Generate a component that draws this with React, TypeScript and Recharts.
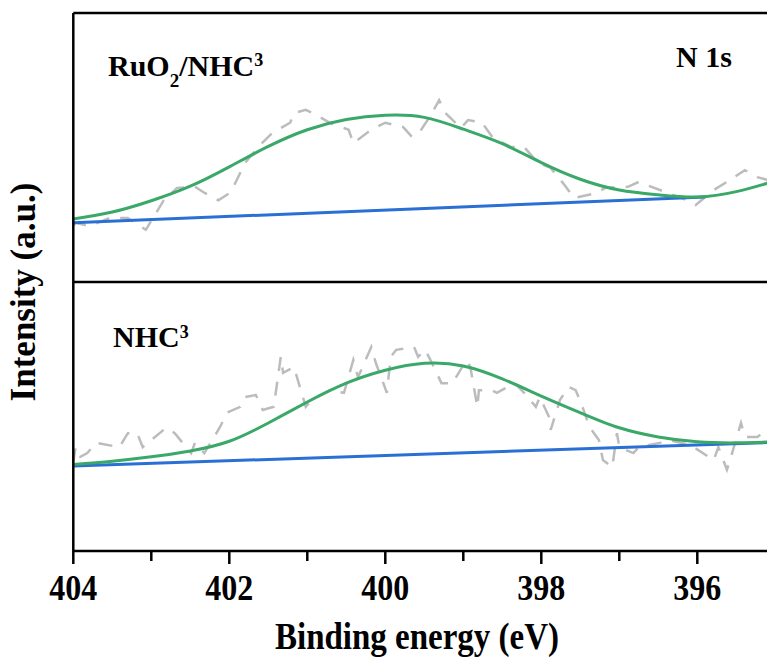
import { LineChart, Line, XAxis, YAxis, ReferenceLine, Customized } from 'recharts';

// N 1s fits, sampled every 0.5 eV from 404 down to 395
const fitEnergy = [404, 403.5, 403, 402.5, 402, 401.5, 401, 400.5, 400, 399.5, 399, 398.5, 398, 397.5, 397, 396.5, 396, 395.5, 395];
const ruo2Fit = [61.7, 63.0, 65.1, 67.8, 71.4, 75.2, 78.3, 80.2, 81.0, 80.6, 78.4, 75.7, 72.2, 69.1, 67.1, 66.2, 65.8, 66.8, 68.8];
const nhcFit = [16.1, 16.7, 17.5, 18.6, 20.4, 23.8, 27.7, 31.2, 33.6, 34.9, 34.4, 32.0, 28.8, 25.7, 22.9, 21.2, 20.3, 20.1, 20.3];

// linear backgrounds
const ruo2BgEnergy = [404, 395.9];
const ruo2Bg = [61.0, 65.8];
const nhcBgEnergy = [404, 395];
const nhcBg = [15.8, 20.2];

// raw spectra
const ruo2RawEnergy = [404.0, 403.97, 403.79, 403.53, 403.30, 403.07, 402.84, 402.67, 402.44, 402.31, 402.14, 401.98, 401.80, 401.63, 401.45, 401.22, 401.17, 401.02, 400.88, 400.71, 400.47, 400.41, 400.18, 400.00, 399.77, 399.66, 399.54, 399.43, 399.31, 399.23, 399.03, 398.94, 398.76, 398.62, 398.39, 398.22, 398.04, 397.88, 397.70, 397.58, 397.30, 397.18, 396.89, 396.75, 396.48, 396.13, 396.02, 395.79, 395.62, 395.39, 395.23, 395.11, 395.0];
const ruo2Raw = [60.5, 61.0, 60.4, 61.9, 61.9, 59.7, 65.2, 67.5, 67.7, 66.5, 65.2, 66.7, 72.1, 75.1, 77.7, 79.6, 81.4, 82.0, 81.0, 79.6, 78.3, 75.8, 78.3, 79.6, 78.8, 77.0, 78.3, 80.7, 83.8, 81.4, 78.6, 80.1, 79.6, 76.8, 75.1, 75.1, 72.1, 71.2, 68.0, 65.6, 66.5, 67.5, 67.7, 68.6, 67.1, 65.2, 64.3, 67.1, 68.6, 70.8, 69.5, 69.0, 69.3];

const nhcRawEnergy = [404.0, 403.97, 403.91, 403.82, 403.71, 403.41, 403.30, 403.18, 403.11, 402.81, 402.70, 402.49, 402.44, 402.32, 402.12, 402.03, 401.86, 401.80, 401.66, 401.57, 401.43, 401.34, 401.31, 401.17, 401.11, 401.02, 400.94, 400.71, 400.53, 400.41, 400.35, 400.18, 400.12, 400.04, 399.98, 399.93, 399.86, 399.63, 399.58, 399.49, 399.40, 399.28, 399.14, 398.96, 398.91, 398.82, 398.80, 398.64, 398.57, 398.34, 398.22, 398.07, 398.02, 397.90, 397.88, 397.76, 397.65, 397.56, 397.49, 397.38, 397.26, 397.21, 397.09, 397.03, 397.00, 396.82, 396.75, 396.48, 396.36, 396.09, 395.79, 395.73, 395.62, 395.58, 395.44, 395.39, 395.23, 395.11, 395.0];
const nhcRaw = [16.5, 19.3, 17.5, 18.2, 20.1, 19.3, 21.9, 21.9, 19.3, 22.9, 21.9, 18.2, 20.1, 18.2, 23.0, 25.7, 26.8, 28.6, 29.0, 26.2, 26.8, 36.1, 33.1, 34.2, 31.2, 26.8, 28.1, 29.9, 29.4, 35.5, 32.3, 37.9, 34.9, 31.8, 29.4, 36.1, 37.4, 37.9, 36.1, 37.4, 34.9, 31.2, 31.2, 35.5, 34.2, 26.8, 29.9, 29.9, 29.4, 31.2, 29.4, 26.8, 28.6, 24.9, 22.5, 28.1, 30.5, 29.9, 27.5, 23.0, 20.6, 16.9, 15.6, 21.9, 19.3, 18.2, 19.3, 20.1, 20.6, 19.7, 16.9, 19.3, 15.1, 16.9, 23.8, 21.2, 21.2, 22.5, 21.6];

const xTicks = [404, 403, 402, 401, 400, 399, 398, 397, 396, 395];

const FONT = '"Liberation Serif", "Times New Roman", serif';
const GREEN = '#3aa868';
const BLUE = '#2a6fd4';
const GREY = '#bcbcbc';

const zip = (xs: number[], ys: number[]) => xs.map((ev, i) => ({ ev, y: ys[i] }));

function EnergyTick(props: any) {
  const { x, y, payload } = props;
  const major = payload.value % 2 === 0;
  return (
    <g>
      <line x1={x} x2={x} y1={y} y2={y + (major ? 13 : 10)} stroke="#000" strokeWidth={2.5} />
      {major && (
        <text
          transform={`translate(${x},${y + 49}) scale(1,1.1)`}
          textAnchor="middle"
          fontFamily={FONT}
          fontWeight="bold"
          fontSize={32}
          fill="#000"
        >
          {payload.value}
        </text>
      )}
    </g>
  );
}

function Annotations() {
  const common = { fontFamily: FONT, fontWeight: 'bold' as const, fill: '#000' };
  return (
    <g>
      <text x={108} y={76} fontSize={30} {...common}>
        RuO<tspan fontSize={19} dy={11}>2</tspan>
        <tspan dy={-11}>/NHC</tspan>
        <tspan fontSize={18} dy={-10}>3</tspan>
      </text>
      <text x={676} y={67} fontSize={30} {...common}>N 1s</text>
      <text x={113} y={347} fontSize={30} {...common}>
        NHC<tspan fontSize={18} dy={-9}>3</tspan>
      </text>
      <text transform="translate(417,649) scale(1,1.15)" textAnchor="middle" fontSize={33} {...common}>
        Binding energy (eV)
      </text>
      <text transform="translate(35,292) rotate(-90)" textAnchor="middle" fontSize={35} {...common}>
        Intensity (a.u.)
      </text>
    </g>
  );
}

export default function App() {
  return (
    <div
      style={{
        position: 'fixed',
        left: 0,
        top: 0,
        width: 767,
        height: 659,
        overflow: 'hidden',
        background: '#fff',
      }}
    >
      <LineChart width={800} height={659} margin={{ top: 13, right: 24.7, bottom: 0, left: 73.3 }}>
        <XAxis
          dataKey="ev"
          type="number"
          domain={[395, 404]}
          reversed
          ticks={xTicks}
          interval={0}
          height={108}
          tickSize={0}
          tickMargin={0}
          tickLine={false}
          axisLine={{ stroke: '#000', strokeWidth: 2.5 }}
          tick={<EnergyTick />}
        />
        <YAxis type="number" domain={[0, 100]} hide />
        <Line data={zip(ruo2RawEnergy, ruo2Raw)} dataKey="y" stroke={GREY} strokeWidth={2.5} strokeDasharray="14 11" dot={false} isAnimationActive={false} type="linear" />
        <Line data={zip(nhcRawEnergy, nhcRaw)} dataKey="y" stroke={GREY} strokeWidth={2.5} strokeDasharray="14 11" dot={false} isAnimationActive={false} type="linear" />
        <Line data={zip(ruo2BgEnergy, ruo2Bg)} dataKey="y" stroke={BLUE} strokeWidth={3} dot={false} isAnimationActive={false} type="linear" />
        <Line data={zip(nhcBgEnergy, nhcBg)} dataKey="y" stroke={BLUE} strokeWidth={3} dot={false} isAnimationActive={false} type="linear" />
        <Line data={zip(fitEnergy, ruo2Fit)} dataKey="y" stroke={GREEN} strokeWidth={3} dot={false} isAnimationActive={false} type="natural" />
        <Line data={zip(fitEnergy, nhcFit)} dataKey="y" stroke={GREEN} strokeWidth={3} dot={false} isAnimationActive={false} type="natural" />
        <ReferenceLine y={100} stroke="#000" strokeWidth={2.5} />
        <ReferenceLine y={50} stroke="#000" strokeWidth={2.5} />
        <ReferenceLine x={404} stroke="#000" strokeWidth={2.5} />
        <Customized component={Annotations} />
      </LineChart>
    </div>
  );
}
